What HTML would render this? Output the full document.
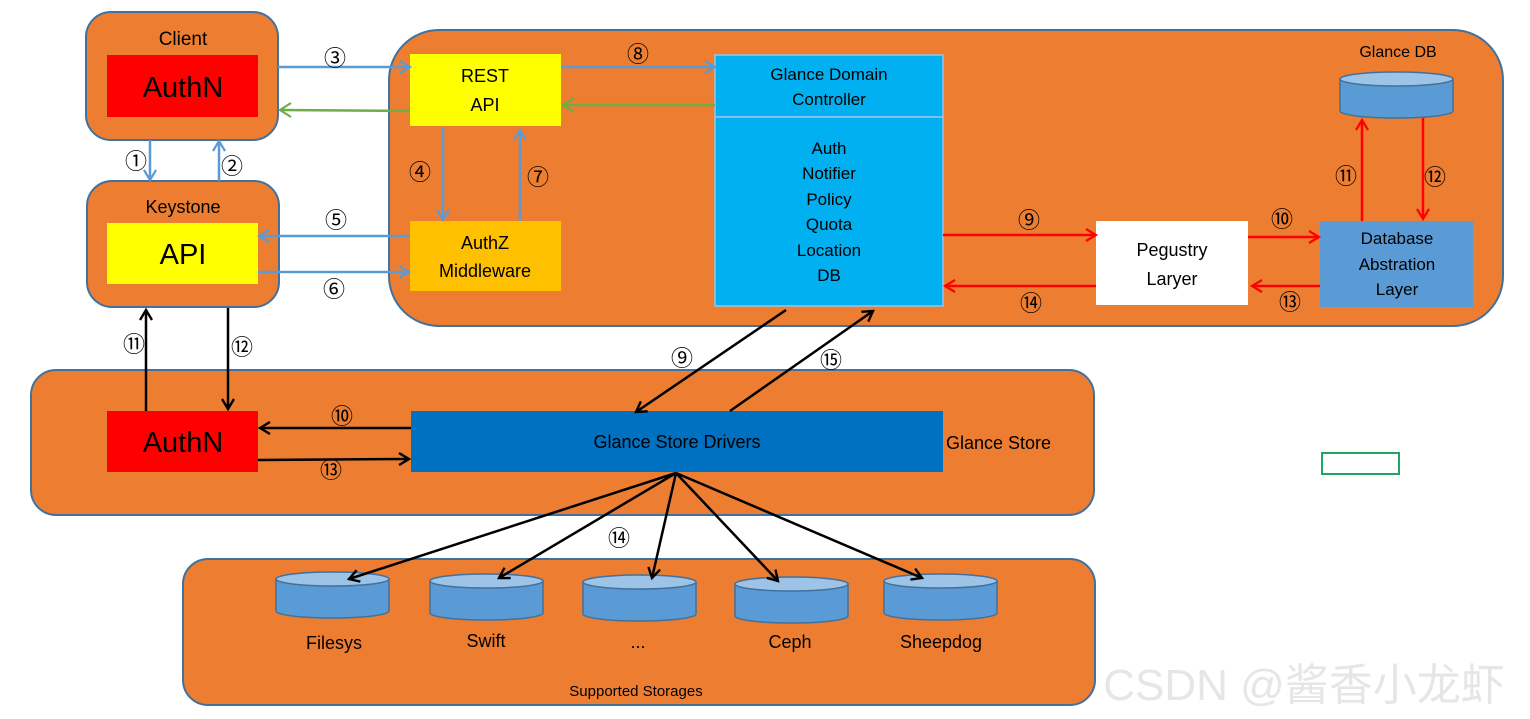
<!DOCTYPE html>
<html><head><meta charset="utf-8"><style>
html,body{margin:0;padding:0;background:#fff;}
svg{display:block;}
text{font-family:"Liberation Sans","Noto Sans CJK SC",sans-serif;fill:#000;}
.n{font-family:"Noto Sans CJK SC","DejaVu Sans",sans-serif;font-size:22px;text-anchor:middle;}
.c{text-anchor:middle;}
</style></head><body>
<svg width="1530" height="719" viewBox="0 0 1530 719" xmlns="http://www.w3.org/2000/svg">
<defs>
<marker id="ab" markerWidth="14" markerHeight="14" refX="11" refY="7" orient="auto" markerUnits="userSpaceOnUse"><path d="M1,1 L11,7 L1,13" fill="none" stroke="#5B9BD5" stroke-width="2.2"/></marker>
<marker id="ar" markerWidth="14" markerHeight="14" refX="11" refY="7" orient="auto" markerUnits="userSpaceOnUse"><path d="M1,1 L11,7 L1,13" fill="none" stroke="#FF0000" stroke-width="2.2"/></marker>
<marker id="ak" markerWidth="14" markerHeight="14" refX="11" refY="7" orient="auto" markerUnits="userSpaceOnUse"><path d="M1,1 L11,7 L1,13" fill="none" stroke="#000" stroke-width="2.4"/></marker>
</defs>
<g stroke="#41719C" stroke-width="2" fill="#ED7D31">
<rect x="86" y="12" width="192" height="128" rx="25"/>
<rect x="87" y="181" width="192" height="126" rx="25"/>
<rect x="389" y="30" width="1114" height="296" rx="50"/>
<rect x="31" y="370" width="1063" height="145" rx="25"/>
<rect x="183" y="559" width="912" height="146" rx="25"/>
</g>
<rect x="107" y="55" width="151" height="62" fill="#FF0000"/>
<rect x="107" y="223" width="151" height="61" fill="#FFFF00"/>
<rect x="410" y="54" width="151" height="72" fill="#FFFF00"/>
<rect x="410" y="221" width="151" height="70" fill="#FFC000"/>
<rect x="715" y="55" width="228" height="62" fill="#00B0F0" stroke="#9DC3E6" stroke-width="1.5"/>
<rect x="715" y="117" width="228" height="189" fill="#00B0F0" stroke="#9DC3E6" stroke-width="1.5"/>
<rect x="1096" y="221" width="152" height="84" fill="#fff"/>
<rect x="1320" y="221" width="153" height="86" fill="#5B9BD5"/>
<rect x="107" y="411" width="151" height="61" fill="#FF0000"/>
<rect x="411" y="411" width="532" height="61" fill="#0070C0"/>
<rect x="1322" y="453" width="77" height="21" fill="none" stroke="#21A366" stroke-width="2"/>
<g stroke="#41719C" stroke-width="1.5">
<path d="M1340,79 L1340,111 A56.5,7 0 0 0 1453,111 L1453,79 Z" fill="#5B9BD5"/><ellipse cx="1396.5" cy="79" rx="56.5" ry="7" fill="#9DC3E6"/>
<path d="M276,579 L276,611 A56.5,7 0 0 0 389,611 L389,579 Z" fill="#5B9BD5"/><ellipse cx="332.5" cy="579" rx="56.5" ry="7" fill="#9DC3E6"/>
<path d="M430,581 L430,613 A56.5,7 0 0 0 543,613 L543,581 Z" fill="#5B9BD5"/><ellipse cx="486.5" cy="581" rx="56.5" ry="7" fill="#9DC3E6"/>
<path d="M583,582 L583,614 A56.5,7 0 0 0 696,614 L696,582 Z" fill="#5B9BD5"/><ellipse cx="639.5" cy="582" rx="56.5" ry="7" fill="#9DC3E6"/>
<path d="M735,584 L735,616 A56.5,7 0 0 0 848,616 L848,584 Z" fill="#5B9BD5"/><ellipse cx="791.5" cy="584" rx="56.5" ry="7" fill="#9DC3E6"/>
<path d="M884,581 L884,613 A56.5,7 0 0 0 997,613 L997,581 Z" fill="#5B9BD5"/><ellipse cx="940.5" cy="581" rx="56.5" ry="7" fill="#9DC3E6"/>
</g>
<g stroke="#5B9BD5" stroke-width="2.5" fill="none">
<line x1="150" y1="140" x2="150" y2="180" marker-end="url(#ab)"/>
<line x1="219" y1="181" x2="219" y2="141" marker-end="url(#ab)"/>
<line x1="278" y1="67" x2="410" y2="67" marker-end="url(#ab)"/>
<line x1="410" y1="236" x2="259" y2="236" marker-end="url(#ab)"/>
<line x1="258" y1="272" x2="409" y2="272" marker-end="url(#ab)"/>
<line x1="443" y1="127" x2="443" y2="220" marker-end="url(#ab)"/>
<line x1="520" y1="221" x2="520" y2="130" marker-end="url(#ab)"/>
<line x1="561" y1="67" x2="715" y2="67" marker-end="url(#ab)"/>
</g>
<g stroke="#70AD47" stroke-width="2.5" fill="none">
<line x1="410" y1="111" x2="281" y2="110"/>
<line x1="715" y1="105" x2="564" y2="105"/>
</g>
<path d="M291,103 L280,110 L291,117 M574,98 L563,105 L574,112" fill="none" stroke="#70AD47" stroke-width="2.2"/>
<g stroke="#FF0000" stroke-width="2.5" fill="none">
<line x1="943" y1="235" x2="1096" y2="235" marker-end="url(#ar)"/>
<line x1="1096" y1="286" x2="945" y2="286" marker-end="url(#ar)"/>
<line x1="1248" y1="237" x2="1319" y2="237" marker-end="url(#ar)"/>
<line x1="1320" y1="286" x2="1252" y2="286" marker-end="url(#ar)"/>
<line x1="1362" y1="221" x2="1362" y2="120" marker-end="url(#ar)"/>
<line x1="1423" y1="118" x2="1423" y2="219" marker-end="url(#ar)"/>
</g>
<g stroke="#000" stroke-width="2.5" fill="none">
<line x1="146" y1="411" x2="146" y2="310" marker-end="url(#ak)"/>
<line x1="228" y1="308" x2="228" y2="409" marker-end="url(#ak)"/>
<line x1="411" y1="428" x2="260" y2="428" marker-end="url(#ak)"/>
<line x1="258" y1="460" x2="409" y2="459" marker-end="url(#ak)"/>
<line x1="786" y1="310" x2="636" y2="412" marker-end="url(#ak)"/>
<line x1="730" y1="411" x2="873" y2="311" marker-end="url(#ak)"/>
<line x1="676" y1="473" x2="349" y2="579" marker-end="url(#ak)"/>
<line x1="676" y1="473" x2="499" y2="578" marker-end="url(#ak)"/>
<line x1="676" y1="473" x2="652" y2="578" marker-end="url(#ak)"/>
<line x1="676" y1="473" x2="778" y2="581" marker-end="url(#ak)"/>
<line x1="676" y1="473" x2="922" y2="578" marker-end="url(#ak)"/>
</g>
<text x="183" y="45" class="c" font-size="19">Client</text>
<text x="183" y="97" class="c" font-size="29">AuthN</text>
<text x="183" y="213" class="c" font-size="18">Keystone</text>
<text x="183" y="264" class="c" font-size="29">API</text>
<text x="485" y="82" class="c" font-size="18">REST</text>
<text x="485" y="111" class="c" font-size="18">API</text>
<text x="485" y="249" class="c" font-size="18">AuthZ</text>
<text x="485" y="277" class="c" font-size="18">Middleware</text>
<text x="829" y="80" class="c" font-size="17">Glance Domain</text>
<text x="829" y="105" class="c" font-size="17">Controller</text>
<text x="829" y="154" class="c" font-size="17">Auth</text>
<text x="829" y="179" class="c" font-size="17">Notifier</text>
<text x="829" y="205" class="c" font-size="17">Policy</text>
<text x="829" y="230" class="c" font-size="17">Quota</text>
<text x="829" y="256" class="c" font-size="17">Location</text>
<text x="829" y="281" class="c" font-size="17">DB</text>
<text x="1172" y="256" class="c" font-size="18">Pegustry</text>
<text x="1172" y="285" class="c" font-size="18">Laryer</text>
<text x="1397" y="244" class="c" font-size="17">Database</text>
<text x="1397" y="270" class="c" font-size="17">Abstration</text>
<text x="1397" y="295" class="c" font-size="17">Layer</text>
<text x="1398" y="57" class="c" font-size="16">Glance DB</text>
<text x="183" y="452" class="c" font-size="29">AuthN</text>
<text x="677" y="448" class="c" font-size="18">Glance Store Drivers</text>
<text x="946" y="449" font-size="18">Glance Store</text>
<text x="334" y="649" class="c" font-size="18">Filesys</text>
<text x="486" y="647" class="c" font-size="18">Swift</text>
<text x="638" y="648" class="c" font-size="18">...</text>
<text x="790" y="648" class="c" font-size="18">Ceph</text>
<text x="941" y="648" class="c" font-size="18">Sheepdog</text>
<text x="636" y="696" class="c" font-size="15">Supported Storages</text>
<text x="335" y="66" class="n">③</text>
<text x="136" y="169" class="n">①</text>
<text x="232" y="174" class="n">②</text>
<text x="336" y="228" class="n">⑤</text>
<text x="334" y="297" class="n">⑥</text>
<text x="420" y="180" class="n">④</text>
<text x="538" y="185" class="n">⑦</text>
<text x="638" y="62" class="n">⑧</text>
<text x="1029" y="228" class="n">⑨</text>
<text x="1031" y="311" class="n">⑭</text>
<text x="1282" y="227" class="n">⑩</text>
<text x="1290" y="310" class="n">⑬</text>
<text x="1346" y="184" class="n">⑪</text>
<text x="1435" y="185" class="n">⑫</text>
<text x="134" y="352" class="n">⑪</text>
<text x="242" y="355" class="n">⑫</text>
<text x="342" y="424" class="n">⑩</text>
<text x="331" y="478" class="n">⑬</text>
<text x="682" y="366" class="n">⑨</text>
<text x="831" y="368" class="n">⑮</text>
<text x="619" y="546" class="n">⑭</text>
<text x="1304" y="700" class="c" font-size="44" style="fill:#e6e6e6">CSDN @酱香小龙虾</text>
</svg>
</body></html>
